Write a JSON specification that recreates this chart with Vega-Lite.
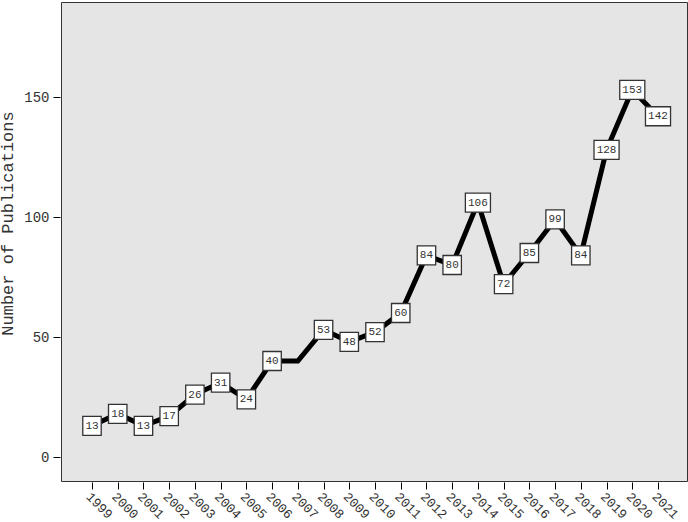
{
  "$schema": "https://vega.github.io/schema/vega-lite/v6.json",
  "width": 626,
  "height": 479,
  "autosize": {"type": "none"},
  "padding": {"left": 61, "top": 2, "right": 1, "bottom": 41},
  "background": "white",
  "config": {
    "view": {"fill": "#e5e5e5", "stroke": "#333333", "strokeWidth": 1},
    "font": "Liberation Mono"
  },
  "data": {
    "values": [
      {"year": "1999", "count": 13},
      {"year": "2000", "count": 18},
      {"year": "2001", "count": 13},
      {"year": "2002", "count": 17},
      {"year": "2003", "count": 26},
      {"year": "2004", "count": 31},
      {"year": "2005", "count": 24},
      {"year": "2006", "count": 40},
      {"year": "2007", "count": 40},
      {"year": "2008", "count": 53},
      {"year": "2009", "count": 48},
      {"year": "2010", "count": 52},
      {"year": "2011", "count": 60},
      {"year": "2012", "count": 84},
      {"year": "2013", "count": 80},
      {"year": "2014", "count": 106},
      {"year": "2015", "count": 72},
      {"year": "2016", "count": 85},
      {"year": "2017", "count": 99},
      {"year": "2018", "count": 84},
      {"year": "2019", "count": 128},
      {"year": "2020", "count": 153},
      {"year": "2021", "count": 142}
    ]
  },
  "encoding": {
    "x": {
      "field": "year", "type": "ordinal",
      "scale": {"type": "point", "range": [31, 597], "padding": 0},
      "axis": {
        "title": null, "domain": false, "grid": false,
        "labelAngle": 45, "labelAlign": "left", "labelBaseline": "top",
        "labelFont": "Liberation Mono", "labelFontSize": 13, "labelColor": "#333333",
        "tickColor": "#000000", "tickSize": 7, "offset": 1, "labelPadding": 1
      }
    },
    "y": {
      "field": "count", "type": "quantitative",
      "scale": {"domain": [-10, 189.6], "nice": false, "zero": false},
      "axis": {
        "title": "Number of Publications", "values": [0, 50, 100, 150],
        "domain": false, "grid": false,
        "labelFont": "Liberation Mono", "labelFontSize": 14, "labelColor": "#333333",
        "titleFont": "Liberation Mono", "titleFontSize": 17, "titleFontWeight": "normal", "titleColor": "#333333",
        "titleY": 221,
        "tickColor": "#000000", "tickSize": 7, "offset": 1, "labelPadding": 4, "titlePadding": 7
      }
    }
  },
  "layer": [
    {"mark": {"type": "line", "color": "#000000", "strokeWidth": 5}},
    {
      "transform": [{"filter": "datum.year != '2007' && datum.count < 100"}],
      "mark": {"type": "point", "filled": true, "fill": "white", "stroke": "#333333", "strokeWidth": 1.3, "opacity": 1, "size": 361,
               "shape": "M-0.97,-1L0.97,-1L0.97,1L-0.97,1Z"}
    },
    {
      "transform": [{"filter": "datum.count >= 100"}],
      "mark": {"type": "point", "filled": true, "fill": "white", "stroke": "#333333", "strokeWidth": 1.3, "opacity": 1, "size": 361,
               "shape": "M-1.32,-1L1.32,-1L1.32,1L-1.32,1Z"}
    },
    {
      "transform": [{"filter": "datum.year != '2007'"}],
      "mark": {"type": "text", "font": "Liberation Mono", "fontSize": 11, "color": "#333333", "baseline": "middle", "align": "center"},
      "encoding": {"text": {"field": "count", "type": "quantitative"}}
    }
  ]
}
